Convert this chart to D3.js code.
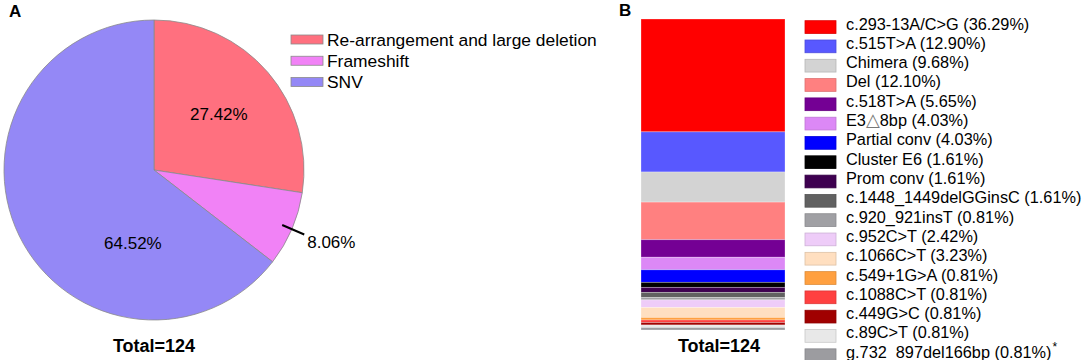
<!DOCTYPE html>
<html lang="en">
<head>
<meta charset="UTF-8">
<title>Variant types</title>
<script src="https://d3js.org/d3.v7.min.js"></script>
<style>
  body { margin: 0; background: #fff; }
  svg { font-family: "Liberation Sans", Arial, sans-serif; }
</style>
</head>
<body>
<svg width="1084" height="360"></svg>
<script>
// panel A: variant classes
const pieLabels = ["Re-arrangement and large deletion", "Frameshift", "SNV"];
const pieCounts = [34, 10, 80];
const pieText = ["27.42%", "8.06%", "64.52%"];
const pieColors = ["#ff707f", "#f182f6", "#9488f6"];

// panel B: individual variants
const varLabels = ["c.293-13A/C>G", "c.515T>A", "Chimera", "Del", "c.518T>A", "E3\u25B38bp",
  "Partial conv", "Cluster E6", "Prom conv", "c.1448_1449delGGinsC", "c.920_921insT",
  "c.952C>T", "c.1066C>T", "c.549+1G>A", "c.1088C>T", "c.449G>C", "c.89C>T", "g.732_897del166bp"];
const varCounts = [45, 16, 12, 15, 7, 5, 5, 2, 2, 2, 1, 3, 4, 1, 1, 1, 1, 1];
const varPct = ["36.29%", "12.90%", "9.68%", "12.10%", "5.65%", "4.03%", "4.03%", "1.61%", "1.61%",
  "1.61%", "0.81%", "2.42%", "3.23%", "0.81%", "0.81%", "0.81%", "0.81%", "0.81%"];
const varColors = ["#ff0000", "#5858ff", "#d3d3d3", "#ff8080", "#740094", "#dc88f6", "#0000ff",
  "#000000", "#3e0050", "#616161", "#a0a0a4", "#eeccf8", "#ffdfc0", "#ffa040", "#ff4040",
  "#a00000", "#e8e8e8", "#9c9ca0"];

const svg = d3.select("svg");

// ---------- A ----------
const cx = 154, cy = 170, R = 150;
const gA = svg.append("g").attr("transform", `translate(${cx},${cy})`);
const pie = d3.pie().sort(null).value(d => d)(pieCounts);
const arc = d3.arc().innerRadius(0).outerRadius(R);

gA.selectAll("path").data(pie).enter().append("path")
  .attr("d", arc)
  .attr("fill", (d, i) => pieColors[i])
  .attr("stroke", "#8a8a8a")
  .attr("stroke-width", 0.8);

// inside labels: [fraction of slice angle, fraction of radius]
const inPos = [[0.5, 0.57], null, [0.294, 0.51]];
pie.forEach((d, i) => {
  const p = inPos[i];
  if (!p) return;
  const a = d.startAngle + (d.endAngle - d.startAngle) * p[0];
  gA.append("text")
    .attr("x", Math.sin(a) * R * p[1])
    .attr("y", -Math.cos(a) * R * p[1])
    .attr("dy", "0.35em")
    .attr("text-anchor", "middle")
    .attr("font-size", 17)
    .text(pieText[i]);
});

// outside label for the small slice
{
  const d = pie[1];
  const a = (d.startAngle + d.endAngle) / 2;
  const x1 = Math.sin(a) * R * 0.93, y1 = -Math.cos(a) * R * 0.93;
  const x2 = Math.sin(a) * R * 1.09, y2 = -Math.cos(a) * R * 1.09;
  gA.append("line").attr("x1", x1).attr("y1", y1).attr("x2", x2).attr("y2", y2)
    .attr("stroke", "#000").attr("stroke-width", 2);
  gA.append("text").attr("x", x2 + 3).attr("y", y2 + 14)
    .attr("font-size", 17).text(pieText[1]);
}

// legend A
const legA = svg.append("g");
const yA = d3.scalePoint().domain(pieLabels).range([39.5, 82]);
pieLabels.forEach((l, i) => {
  legA.append("rect").attr("x", 291).attr("y", yA(l) - 4.5)
    .attr("width", 32).attr("height", 9)
    .attr("fill", pieColors[i]).attr("stroke", "#8a8a8a").attr("stroke-width", 0.8);
  legA.append("text").attr("x", 327).attr("y", yA(l) + 6.3)
    .attr("font-size", 17.4).text(l);
});

svg.append("text").attr("x", 9).attr("y", 17).attr("font-size", 17)
  .attr("font-weight", "bold").text("A");
svg.append("text").attr("x", cx).attr("y", 352).attr("text-anchor", "middle")
  .attr("font-size", 18).attr("font-weight", "bold").text("Total=124");

// ---------- B ----------
const total = d3.sum(varCounts);
const yB = d3.scaleLinear().domain([0, total]).range([19, 330]);
const bx0 = 641, bx1 = 785;
let acc = 0;
const stack = varCounts.map(v => { const s = { y0: acc, y1: acc + v }; acc += v; return s; });

svg.append("g").selectAll("rect").data(stack).enter().append("rect")
  .attr("x", bx0).attr("width", bx1 - bx0)
  .attr("y", d => yB(d.y0))
  .attr("height", d => yB(d.y1) - yB(d.y0))
  .attr("fill", (d, i) => varColors[i])
  .attr("stroke", "#fff").attr("stroke-opacity", 0.35).attr("stroke-width", 0.8);

const yL = d3.scaleBand().domain(d3.range(varLabels.length)).range([20.7, 361.6]).paddingInner(0.34).paddingOuter(0);
const legB = svg.append("g");
varLabels.forEach((l, i) => {
  const c = varColors[i];
  legB.append("rect").attr("x", 805).attr("y", yL(i))
    .attr("width", 31).attr("height", yL.bandwidth())
    .attr("fill", c).attr("stroke", d3.color(c).darker(0.4)).attr("stroke-width", 0.8);
  const t = legB.append("text").attr("x", 846).attr("y", yL(i) + yL.bandwidth() / 2 + 2.5)
    .attr("font-size", 16.3);
  // the triangle is drawn a bit larger than the surrounding text
  l.split(/(\u25B3)/).forEach(part => {
    if (!part) return;
    const s = t.append("tspan").text(part);
    if (part === "\u25B3") s.attr("font-family", "'DejaVu Sans'").attr("fill", "#777").attr("font-size", 18);
  });
  t.append("tspan").text(` (${varPct[i]})`);
});
// asterisk on last entry
{
  const last = legB.selectAll("text").nodes().pop();
  const w = last.getComputedTextLength();
  legB.append("text").attr("x", 846 + w + 1).attr("y", yL(varLabels.length - 1) + 2)
    .attr("font-size", 12).text("*");
}

svg.append("text").attr("x", 619).attr("y", 16).attr("font-size", 17)
  .attr("font-weight", "bold").text("B");
svg.append("text").attr("x", 719).attr("y", 352).attr("text-anchor", "middle")
  .attr("font-size", 18).attr("font-weight", "bold").text("Total=124");
</script>
</body>
</html>
